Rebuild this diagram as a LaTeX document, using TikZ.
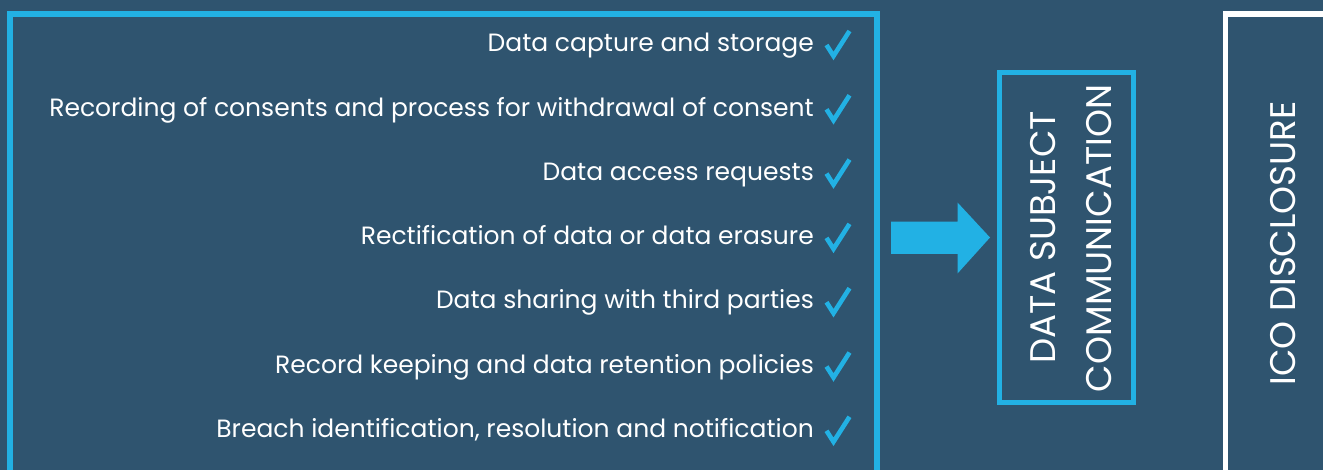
\documentclass[tikz,border=0pt]{standalone}
\usepackage{fontspec}
\setmainfont{Poppins}
\definecolor{bg}{RGB}{47,84,111}
\definecolor{cb}{RGB}{34,177,228}
\begin{document}
\begin{tikzpicture}[x=1pt,y=-1pt,
  item/.style={anchor=mid east,text=white,font=\fontsize{25}{28}\selectfont,inner sep=0pt},
  vtext/.style={rotate=90,anchor=base,text=white,font=\fontsize{35.6}{40}\selectfont,inner sep=0pt},
  chk/.pic={\draw[cb,line width=4.6pt,line join=miter,line cap=butt] (-12,1) -- (-5,12) -- (11,-13);}
]
\fill[bg] (0,0) rectangle (1323,470);
\useasboundingbox (0,0) rectangle (1323,470);
\clip (0,0) rectangle (1323,470);
% left box
\draw[cb,line width=5.7pt] (10,490) -- (10,13.8) -- (877,13.8) -- (877,490);
% items
\foreach \t [count=\i] in {Data capture and storage,
  Recording of consents and process for withdrawal of consent,
  Data access requests,
  Rectification of data or data erasure,
  Data sharing with third parties,
  Record keeping and data retention policies,
  Breach identification{,} resolution and notification}{
  \pgfmathsetmacro\yy{44+64.3*(\i-1)}
  \node[item] (t\i) at (814,\yy+5) {\t};
  \pic at (838.5,\yy) {chk};
}
% arrow
\fill[cb] (891,221.7) -- (957.7,221.7) -- (957.7,202.7) -- (990,237.5) -- (957.7,273.3) -- (957.7,254) -- (891,254) -- cycle;
% data subject box
\draw[cb,line width=5pt] (999.8,72.5) rectangle (1133,402.5);
\node[vtext] (ds1) at (1055,237.5) {DATA SUBJECT};
\node[vtext] (ds2) at (1111.7,238.5) {COMMUNICATION};
% ICO box
\draw[white,line width=5.6pt] (1225.5,490) -- (1225.5,14) -- (1340,14);
\node[vtext] (ico) at (1295,243.5) {ICO DISCLOSURE};
\end{tikzpicture}
\end{document}
